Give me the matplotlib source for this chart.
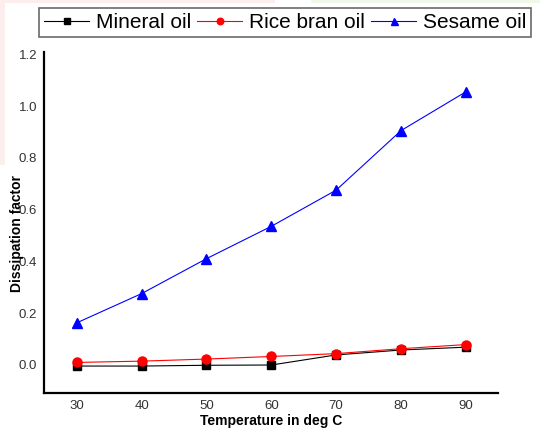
import matplotlib
matplotlib.use("Agg")
import matplotlib.pyplot as plt
from matplotlib.patches import Rectangle

plt.rcParams['font.family'] = ['Liberation Sans', 'DejaVu Sans']

temperature = [30, 40, 50, 60, 70, 80, 90]
mineral_oil = [-0.005, -0.005, -0.002, -0.001, 0.038, 0.057, 0.068]
rice_bran_oil = [0.009, 0.014, 0.022, 0.032, 0.043, 0.062, 0.078]
sesame_oil = [0.162, 0.275, 0.41, 0.535, 0.675, 0.905, 1.055]
series_names = ["Mineral oil", "Rice bran oil", "Sesame oil"]
y_ticks = [0.0, 0.2, 0.4, 0.6, 0.8, 1.0, 1.2]
x_ticks = [30, 40, 50, 60, 70, 80, 90]

W, H = 540, 430
fig = plt.figure(figsize=(5.4, 4.3), dpi=100)
fig.patch.set_facecolor('white')

# faint background strips from the source screenshot
fig.patches.append(Rectangle((0, 1 - 3 / H), 275 / W, 3 / H, transform=fig.transFigure,
                             facecolor='#fdeeee', edgecolor='none', zorder=0))
fig.patches.append(Rectangle((0, 1 - 165 / H), 5 / W, 165 / H, transform=fig.transFigure,
                             facecolor='#fdeeee', edgecolor='none', zorder=0))
fig.patches.append(Rectangle((311 / W, 1 - 3 / H), 229 / W, 3 / H, transform=fig.transFigure,
                             facecolor='#f0f8ea', edgecolor='none', zorder=0))

left, right, top, bottom = 44.3, 498.3, 51.7, 392.7
ax = fig.add_axes([left / W, 1 - bottom / H, (right - left) / W, (bottom - top) / H])
ax.set_facecolor('none')

l1, = ax.plot(temperature, mineral_oil, color='black', lw=0.8, marker='s', markersize=5.5,
              label=series_names[0], zorder=3)
l2, = ax.plot(temperature, rice_bran_oil, color='red', lw=0.8, marker='o', markersize=6.5,
              label=series_names[1], zorder=4)
l3, = ax.plot(temperature, sesame_oil, color='blue', lw=0.8, marker='^', markersize=7,
              label=series_names[2], zorder=3)

ax.set_xlim(25, 95)
ax.set_ylim(-0.108, 1.21)
ax.set_xticks(x_ticks)
ax.set_yticks(y_ticks)
ax.set_yticklabels([f"{v:.1f}" for v in y_ticks])
ax.tick_params(length=0, labelsize=9.5, labelcolor='#333333', pad=5)

for s in ['top', 'right']:
    ax.spines[s].set_visible(False)
for s in ['left', 'bottom']:
    ax.spines[s].set_linewidth(1.6)
    ax.spines[s].set_color('black')

ax.set_xlabel("Temperature in deg C", fontsize=10, fontweight='bold')
ax.set_ylabel("Dissipation factor", fontsize=10, fontweight='bold')
ax.xaxis.label.set_va('center')
ax.yaxis.label.set_va('center')
ax.xaxis.set_label_coords(0.5, (bottom - 421) / (bottom - top))
ax.yaxis.set_label_coords((17.5 - left) / (right - left), (bottom - 234) / (bottom - top))

leg = fig.legend(handles=[l1, l2, l3], loc='upper left', bbox_to_anchor=(39 / W, 1 - 8 / H),
                 ncol=3, fontsize=15, frameon=True, fancybox=False, shadow=False,
                 handlelength=2.15, handletextpad=0.33, columnspacing=0.3,
                 borderpad=0.25, borderaxespad=0, markerscale=0.72)
leg.get_frame().set_edgecolor('#444444')
leg.get_frame().set_linewidth(1.2)

fig.savefig("out.png", dpi=100, facecolor=fig.get_facecolor())
